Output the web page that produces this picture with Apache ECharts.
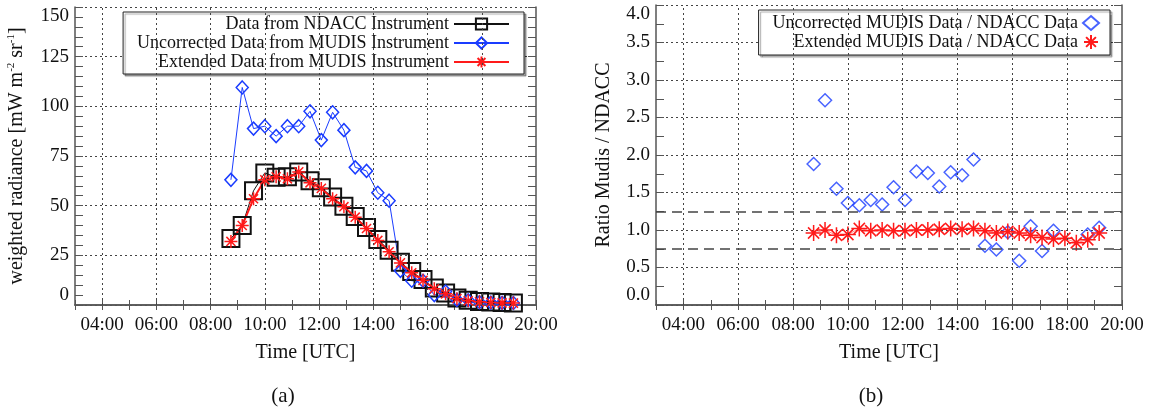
<!DOCTYPE html>
<html>
<head>
<meta charset="utf-8">
<script src="https://cdn.jsdelivr.net/npm/echarts@6/dist/echarts.min.js"></script>
<style>
html,body{margin:0;padding:0;background:#fff;}
#c{width:1160px;height:414px;}
</style>
</head>
<body>
<div id="c"></div>
<script>
// ---- data ----
const times = ['08:45','09:10','09:35','10:00','10:25','10:50','11:15','11:40','12:05','12:30','12:55','13:20','13:45',
               '14:10','14:35','15:00','15:25','15:50','16:15','16:40','17:05','17:30','17:55','18:20','18:45','19:10'];
const ndacc = [33.5, 40, 57.5, 66.5, 64.3, 64.5, 67, 62.5, 59, 54.3, 49.7, 44.5, 39, 33, 27.5, 21.5, 16.8, 12.8, 8.5, 6, 3.5, 2.4, 1.8, 1.5, 1.2, 1.0];
const uncorrected = [63, 109.5, 88.8, 90, 85, 90, 90, 97.5, 83, 97, 88, 69.3, 67.5, 56.5, 52.5, 17.2, 12.2, 12.2, 5.0, 6.8, 2.6, 2.4, 1.4, 1.2, 1.1, 1.0];
const extended = [32, 40, 53.5, 63, 64.5, 63.5, 67, 61.5, 58.7, 53.5, 49.5, 44.2, 38.5, 32.5, 26.8, 21.2, 16.2, 12.4, 8.2, 5.6, 3.2, 2.1, 1.6, 1.25, 1.05, 0.95];
const ratioUncorrected = [1.88, 2.73, 1.55, 1.36, 1.33, 1.40, 1.34, 1.57, 1.40, 1.78, 1.76, 1.58, 1.77, 1.73, 1.94, 0.79, 0.74, 0.97, 0.59, 1.05, 0.72, 0.99, null, null, 0.94, 1.03];
const ratioExtended = [0.96, 1.0, 0.93, 0.94, 1.02, 0.99, 1.0, 0.99, 0.99, 1.0, 1.0, 1.01, 1.02, 1.01, 1.02, 0.99, 0.96, 0.98, 0.96, 0.93, 0.90, 0.88, 0.89, 0.83, 0.87, 0.96];
const gridHours = [4, 6, 8, 10, 12, 14, 16, 18];
const refLines = [1.25, 0.75];
const names = {
  nd: 'Data from NDACC Instrument',
  un: 'Uncorrected Data from MUDIS Instrument',
  ex: 'Extended Data from MUDIS Instrument',
  ru: 'Uncorrected MUDIS Data / NDACC Data',
  re: 'Extended MUDIS Data / NDACC Data'
};

// ---- helpers ----
const FONT = 'Liberation Serif';
const hours = times.map(t => parseInt(t.slice(0, 2), 10) + parseInt(t.slice(3), 10) / 60);
const pairs = arr => hours.map((h, i) => [h, arr[i]]);
const fmtHour = v => (v % 2 === 0 && v > 3) ? (v < 10 ? '0' : '') + v + ':00' : '';
const STAR = 'path://M10,0L10,20M0,10L20,10M3,3L17,17M3,17L17,3';
const axisCol = '#555';
const gridStyle = { color: '#444', width: 1, type: [2, 3] };

function xAxes(gi) {
  return [{
    gridIndex: gi, type: 'value', min: 3, max: 20, interval: 1, position: 'bottom',
    axisLine: { show: true, lineStyle: { color: axisCol, width: 1.5 } },
    axisTick: { show: true, inside: true, length: 5, lineStyle: { color: axisCol } },
    axisLabel: { formatter: fmtHour, color: '#111', fontFamily: FONT, fontSize: 19, margin: 11 },
    splitLine: { show: false },
    name: 'Time [UTC]', nameLocation: 'middle', nameGap: 38,
    nameTextStyle: { color: '#111', fontFamily: FONT, fontSize: 20 }
  }, {
    gridIndex: gi, type: 'value', min: 3, max: 20, interval: 1, position: 'top',
    axisLine: { show: true, lineStyle: { color: axisCol, width: 1.5 } },
    axisTick: { show: true, inside: true, length: 5, lineStyle: { color: axisCol } },
    axisLabel: { show: false }, splitLine: { show: false }
  }];
}
function yAxes(gi, max, interval, minorSplit, fmt, name, nameGap, rich) {
  return [{
    gridIndex: gi, type: 'value', min: 0, max: max, interval: interval, position: 'left',
    axisLine: { show: true, lineStyle: { color: axisCol, width: 1.5 } },
    axisTick: { show: true, inside: true, length: 8, lineStyle: { color: axisCol } },
    minorTick: { show: true, splitNumber: minorSplit, length: 8, lineStyle: { color: axisCol } },
    axisLabel: { formatter: fmt, color: '#111', fontFamily: FONT, fontSize: 19, margin: 6,
                 verticalAlignMinLabel: 'bottom', verticalAlignMaxLabel: 'top' },
    splitLine: { show: true, lineStyle: gridStyle },
    name: name, nameLocation: 'middle', nameGap: nameGap,
    nameTextStyle: { color: '#111', fontFamily: FONT, fontSize: 20, rich: rich }
  }, {
    gridIndex: gi, type: 'value', min: 0, max: max, interval: interval, position: 'right',
    axisLine: { show: true, lineStyle: { color: axisCol, width: 1.5 } },
    axisTick: { show: true, inside: true, length: 8, lineStyle: { color: axisCol } },
    minorTick: { show: true, splitNumber: minorSplit, length: 8, lineStyle: { color: axisCol } },
    axisLabel: { show: false }, splitLine: { show: false }
  }];
}
const vGrid = gridHours.map(h => ({ xAxis: h, lineStyle: gridStyle }));

const legendCommon = {
  orient: 'vertical', align: 'right', backgroundColor: '#fff',
  borderColor: '#222', borderWidth: 1, borderRadius: 0,
  shadowColor: 'rgba(0,0,0,0.35)', shadowOffsetX: 2, shadowOffsetY: 2, shadowBlur: 1,
  textStyle: { color: '#111', fontFamily: FONT, fontSize: 18, lineHeight: 17 },
  itemGap: 1, itemHeight: 14
};

const option = {
  animation: false,
  backgroundColor: '#fff',
  title: [
    { text: '(a)', left: 278, top: 381, textAlign: 'center',
      textStyle: { fontFamily: FONT, fontSize: 21, fontWeight: 'normal', color: '#111' } },
    { text: '(b)', left: 866, top: 381, textAlign: 'center',
      textStyle: { fontFamily: FONT, fontSize: 21, fontWeight: 'normal', color: '#111' } }
  ],
  grid: [
    { left: 75, top: 7, width: 461, height: 298 },
    { left: 656, top: 5, width: 466, height: 300 }
  ],
  xAxis: [...xAxes(0), ...xAxes(1)],
  yAxis: [
    ...yAxes(0, 150, 25, 5, v => String(v),
      'weighted radiance [mW m{sup|-2} sr{sup|-1}]', 47,
      { sup: { fontSize: 11, fontFamily: FONT, color: '#111', verticalAlign: 'top', lineHeight: 22 } }),
    ...yAxes(1, 4, 0.5, 2, v => v.toFixed(1), 'Ratio Mudis / NDACC', 42, {})
  ],
  legend: [
    Object.assign({}, legendCommon, {
      right: 636, top: 12, padding: [3, 14, 3, 14], itemWidth: 55,
      data: [names.nd, names.un, names.ex]
    }),
    Object.assign({}, legendCommon, {
      right: 50, top: 10, padding: [4, 10, 4, 14], itemWidth: 16, itemHeight: 14,
      data: [{ name: names.ru, icon: 'diamond' }, { name: names.re, icon: STAR }]
    })
  ],
  series: [
    {
      name: names.nd, type: 'line', xAxisIndex: 0, yAxisIndex: 0, data: pairs(ndacc),
      symbol: 'rect', symbolSize: 17,
      itemStyle: { color: 'rgba(0,0,0,0)', borderColor: '#111', borderWidth: 2 },
      lineStyle: { color: '#111', width: 1 },
      markLine: { silent: true, symbol: 'none', label: { show: false }, data: vGrid }
    },
    {
      name: names.un, type: 'line', xAxisIndex: 0, yAxisIndex: 0, data: pairs(uncorrected),
      symbol: 'diamond', symbolSize: [12, 13],
      itemStyle: { color: 'rgba(0,0,0,0)', borderColor: '#1a3cff', borderWidth: 1.5 },
      lineStyle: { color: '#1a3cff', width: 1 }
    },
    {
      name: names.ex, type: 'line', xAxisIndex: 0, yAxisIndex: 0, data: pairs(extended),
      symbol: STAR, symbolSize: 13,
      itemStyle: { color: 'rgba(0,0,0,0)', borderColor: '#ff1a1a', borderWidth: 1.5 },
      lineStyle: { color: '#ff1a1a', width: 2 }
    },
    {
      name: names.ru, type: 'scatter', xAxisIndex: 2, yAxisIndex: 2, data: pairs(ratioUncorrected),
      symbol: 'diamond', symbolSize: [13, 13],
      itemStyle: { color: 'rgba(0,0,0,0)', borderColor: '#1a3cff', borderWidth: 1.5 },
      markLine: { silent: true, symbol: 'none', label: { show: false },
        data: vGrid.concat(refLines.map(v => ({ yAxis: v, lineStyle: { color: '#444', width: 1.5, type: [10, 6] } }))) }
    },
    {
      name: names.re, type: 'line', xAxisIndex: 2, yAxisIndex: 2, data: pairs(ratioExtended),
      symbol: STAR, symbolSize: 16,
      itemStyle: { color: 'rgba(0,0,0,0)', borderColor: '#ff1a1a', borderWidth: 1.5 },
      lineStyle: { color: 'rgba(255,60,60,0.6)', width: 1 }
    }
  ]
};

const chart = echarts.init(document.getElementById('c'), null, { renderer: 'canvas' });
chart.setOption(option);
</script>
</body>
</html>
